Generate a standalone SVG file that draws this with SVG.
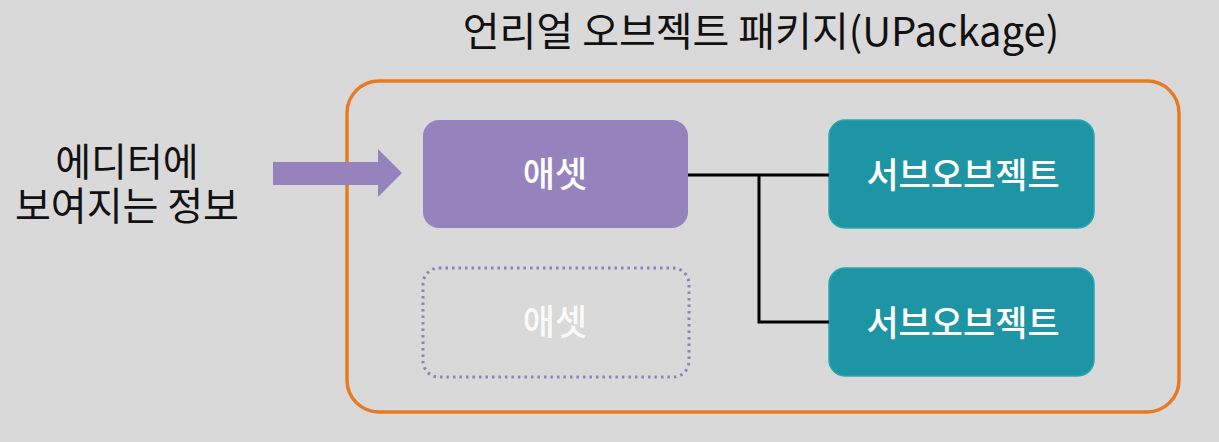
<svg xmlns="http://www.w3.org/2000/svg" width="1219" height="442" viewBox="0 0 1219 442">
<style>
text{font-family:"Noto Sans CJK KR","Noto Sans",sans-serif;}
.lbl{fill:#ffffff;font-weight:500;font-size:35px;text-anchor:middle;}
.ttl{fill:#111111;font-size:40px;text-anchor:middle;}
.side{fill:#111111;font-size:39px;text-anchor:middle;}
.sub{fill:#1e95a5;stroke:#2ba6b5;stroke-width:1.5;}
.conn{fill:none;stroke:#000000;stroke-width:3;}
</style>
<rect x="0" y="0" width="1219" height="442" fill="#d9d9d9"/>
<g id="package">
<rect x="347" y="81" width="832" height="331" rx="32" fill="none" stroke="#e87b22" stroke-width="3.5"/>
<text class="ttl" x="761" y="46">언리얼 오브젝트 패키지(UPackage)</text>
</g>
<g id="editor-info">
<text class="side"><tspan x="127" y="176">에디터에</tspan><tspan x="127" y="220">보여지는 정보</tspan></text>
</g>
<g id="arrow">
<polygon points="273,162 378,162 378,149 402,173 378,197 378,185 273,185" fill="#9683bd"/>
</g>
<g id="asset">
<rect x="423" y="120" width="265" height="108" rx="16" fill="#9683bd"/>
<text class="lbl" x="555" y="187">애셋</text>
</g>
<g id="asset-ghost">
<rect x="423" y="268" width="266" height="109" rx="16" fill="none" stroke="#8f80b8" stroke-width="3" stroke-dasharray="2.5 4"/>
<text class="lbl" x="555" y="335" fill-opacity="0.9">애셋</text>
</g>
<g id="subobject-1">
<rect class="sub" x="829" y="120" width="265" height="108" rx="16"/>
<text class="lbl" x="963" y="188">서브오브젝트</text>
</g>
<g id="subobject-2">
<rect class="sub" x="829" y="268" width="265" height="108" rx="16"/>
<text class="lbl" x="963" y="336">서브오브젝트</text>
</g>
<g id="connectors">
<path class="conn" d="M688,175 H829"/>
<path class="conn" d="M759,175 V322 H829"/>
</g>
</svg>
